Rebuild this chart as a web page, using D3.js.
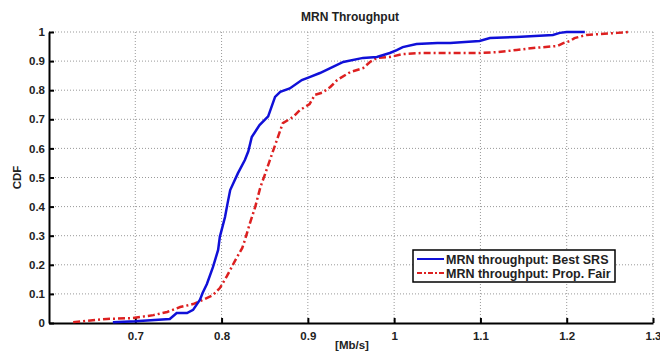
<!DOCTYPE html>
<html>
<head>
<meta charset="utf-8">
<script src="https://cdn.jsdelivr.net/npm/d3@7"></script>
<style>
  body { margin: 0; background: #fff; }
  svg { font-family: "Liberation Sans", Arial, sans-serif; }
</style>
</head>
<body>
<script>
// Best SRS CDF (throughput Mb/s, cdf)
var srsX = [0.674, 0.700, 0.740, 0.748, 0.760, 0.767, 0.775, 0.778, 0.783, 0.790, 0.796, 0.798,
            0.804, 0.807, 0.810, 0.819, 0.827, 0.831, 0.835, 0.844, 0.854, 0.862, 0.868, 0.879,
            0.893, 0.902, 0.914, 0.926, 0.941, 0.964, 0.980, 0.995, 1.003, 1.010, 1.026, 1.050,
            1.065, 1.099, 1.111, 1.142, 1.184, 1.192, 1.200, 1.221];
var srsY = [0.003, 0.006, 0.014, 0.034, 0.034, 0.045, 0.080, 0.103, 0.134, 0.192, 0.251, 0.296,
            0.364, 0.412, 0.457, 0.515, 0.560, 0.590, 0.639, 0.680, 0.710, 0.777, 0.794, 0.806,
            0.835, 0.845, 0.859, 0.876, 0.897, 0.911, 0.914, 0.928, 0.938, 0.948, 0.959, 0.962,
            0.962, 0.969, 0.979, 0.983, 0.990, 0.997, 1.000, 1.000];

// Prop. Fair CDF
var pfX = [0.628, 0.667, 0.697, 0.721, 0.737, 0.752, 0.767, 0.778, 0.790, 0.798, 0.806, 0.816,
           0.824, 0.827, 0.833, 0.839, 0.845, 0.850, 0.856, 0.860, 0.871, 0.883, 0.891, 0.902,
           0.908, 0.917, 0.926, 0.934, 0.949, 0.964, 0.972, 0.980, 0.995, 1.010, 1.033, 1.065,
           1.099, 1.119, 1.142, 1.161, 1.189, 1.196, 1.204, 1.209, 1.223, 1.238, 1.258, 1.273];
var pfY = [0.003, 0.014, 0.017, 0.027, 0.038, 0.055, 0.065, 0.079, 0.096, 0.120, 0.160, 0.216,
           0.258, 0.285, 0.344, 0.399, 0.467, 0.508, 0.560, 0.594, 0.687, 0.708, 0.732, 0.752,
           0.784, 0.792, 0.811, 0.835, 0.862, 0.876, 0.897, 0.911, 0.914, 0.924, 0.928, 0.928,
           0.928, 0.931, 0.938, 0.945, 0.952, 0.962, 0.969, 0.979, 0.990, 0.993, 0.997, 1.000];

var xTicks = [0.7, 0.8, 0.9, 1, 1.1, 1.2, 1.3];
var yTicks = [0, 0.1, 0.2, 0.3, 0.4, 0.5, 0.6, 0.7, 0.8, 0.9, 1];
var seriesNames = ["MRN throughput: Best SRS", "MRN throughput: Prop. Fair"];

var w = 660, h = 351;
var padL = 49, padR = 653, padT = 32, padB = 323;

var svg = d3.select("body").append("svg")
    .attr("width", w)
    .attr("height", h);

var xScale = d3.scaleLinear().domain([0.6, 1.3]).range([padL, padR]);
var yScale = d3.scaleLinear().domain([0, 1]).range([padB, padT]);

// grid
svg.append("g")
    .selectAll("line")
    .data(xTicks)
    .enter()
    .append("line")
    .attr("x1", function (d) { return xScale(d); })
    .attr("x2", function (d) { return xScale(d); })
    .attr("y1", padT)
    .attr("y2", padB)
    .attr("stroke", "#999")
    .attr("stroke-dasharray", "1,2");

svg.append("g")
    .selectAll("line")
    .data(yTicks.slice(1))
    .enter()
    .append("line")
    .attr("x1", padL)
    .attr("x2", padR)
    .attr("y1", function (d) { return yScale(d); })
    .attr("y2", function (d) { return yScale(d); })
    .attr("stroke", "#999")
    .attr("stroke-dasharray", "1,2");

// axes
var xAxis = d3.axisBottom(xScale)
    .tickValues(xTicks)
    .tickSizeInner(-5)
    .tickSizeOuter(0)
    .tickPadding(9)
    .tickFormat(d3.format("~g"));

var yAxis = d3.axisLeft(yScale)
    .tickValues(yTicks)
    .tickSizeInner(-5)
    .tickSizeOuter(0)
    .tickPadding(4)
    .tickFormat(d3.format("~g"));

var gx = svg.append("g")
    .attr("transform", "translate(0," + padB + ")")
    .call(xAxis);
var gy = svg.append("g")
    .attr("transform", "translate(" + padL + ",0)")
    .call(yAxis);

[gx, gy].forEach(function (g) {
    g.select(".domain").attr("stroke", "#000").attr("stroke-width", 2);
    g.selectAll(".tick line").attr("stroke", "#000").attr("stroke-width", 2);
    g.selectAll(".tick text")
        .attr("fill", "#222")
        .attr("font-size", 11.5)
        .attr("font-weight", "bold")
        .attr("font-family", "'Liberation Sans', Arial, sans-serif");
});

// curves
var line = d3.line()
    .x(function (d) { return xScale(d[0]); })
    .y(function (d) { return yScale(d[1]); });

svg.append("path")
    .datum(d3.zip(pfX, pfY))
    .attr("fill", "none")
    .attr("stroke", "#dd2020")
    .attr("stroke-width", 2.5)
    .attr("stroke-dasharray", "7,3,2,3")
    .attr("d", line);

svg.append("path")
    .datum(d3.zip(srsX, srsY))
    .attr("fill", "none")
    .attr("stroke", "#1010d8")
    .attr("stroke-width", 2.5)
    .attr("d", line);

// title and labels
svg.append("text")
    .text("MRN Throughput")
    .attr("x", 350)
    .attr("y", 21)
    .attr("text-anchor", "middle")
    .attr("font-size", 12)
    .attr("font-weight", "bold")
    .style("fill", "#222");

svg.append("text")
    .text("[Mb/s]")
    .attr("x", 352)
    .attr("y", 349)
    .attr("text-anchor", "middle")
    .attr("font-size", 11.5)
    .attr("font-weight", "bold")
    .style("fill", "#222");

svg.append("text")
    .text("CDF")
    .attr("transform", "translate(21," + (padT + padB) / 2 + ") rotate(-90)")
    .attr("text-anchor", "middle")
    .attr("font-size", 11.5)
    .attr("font-weight", "bold")
    .style("fill", "#222");

// legend
var legend = svg.append("g").attr("transform", "translate(413,250)");
legend.append("rect")
    .attr("width", 202)
    .attr("height", 32)
    .attr("fill", "#fff")
    .attr("stroke", "#000")
    .attr("stroke-width", 1.5);

var legendStyles = [
    { color: "#1010d8", dash: null },
    { color: "#dd2020", dash: "5,2,2,2" }
];

seriesNames.forEach(function (name, i) {
    var yy = 9 + i * 14;
    legend.append("line")
        .attr("x1", 4)
        .attr("x2", 31)
        .attr("y1", yy)
        .attr("y2", yy)
        .attr("stroke", legendStyles[i].color)
        .attr("stroke-width", 2)
        .attr("stroke-dasharray", legendStyles[i].dash);
    legend.append("text")
        .text(name)
        .attr("x", 33)
        .attr("y", yy + 4.5)
        .attr("font-size", 12.5)
        .attr("font-weight", "bold")
        .style("fill", "#222");
});
</script>
</body>
</html>
